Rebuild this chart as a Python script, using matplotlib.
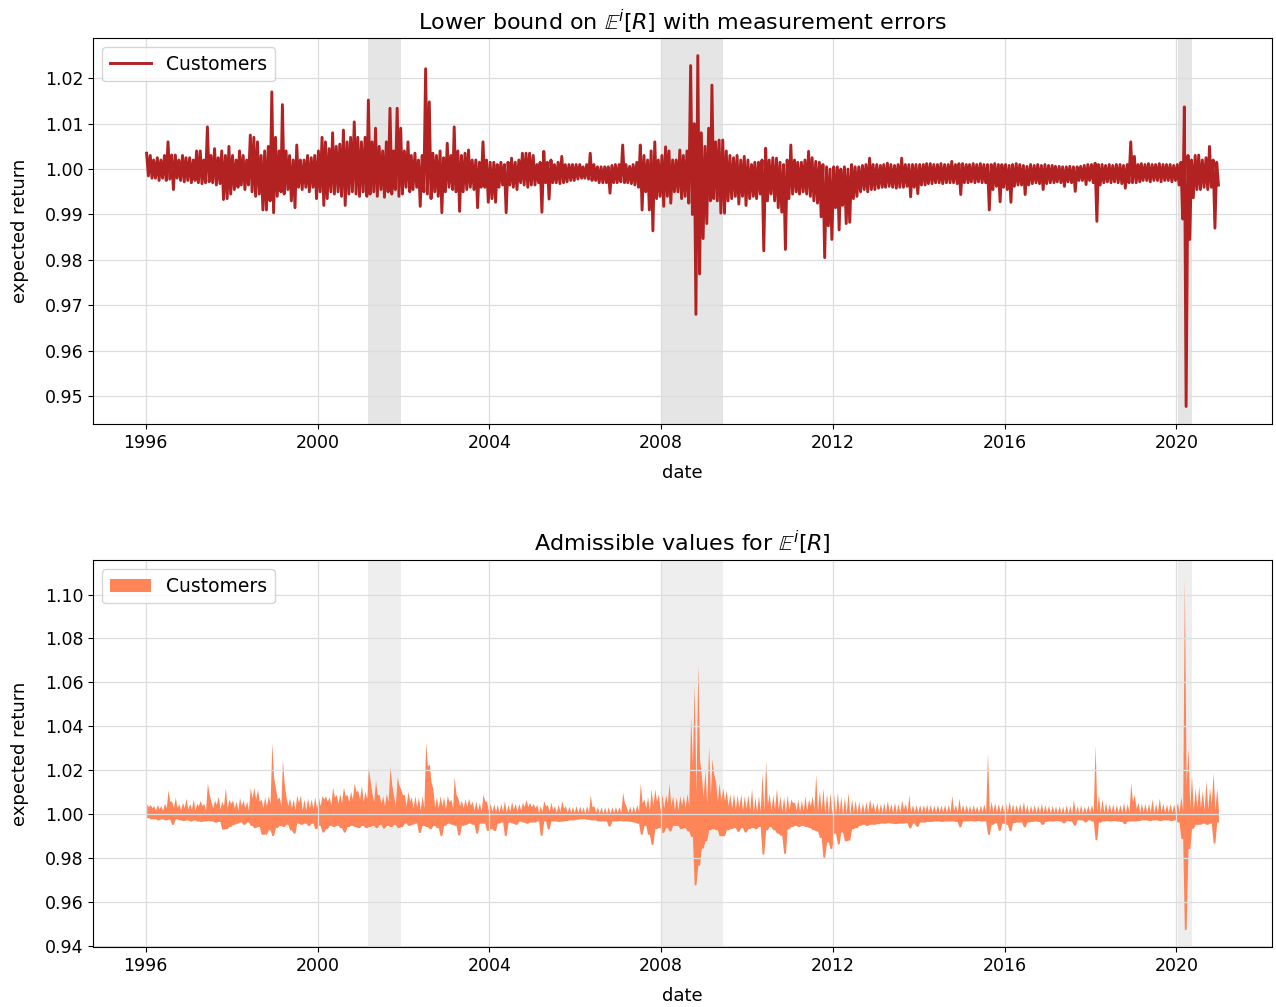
import numpy as np
import pandas as pd
import matplotlib
matplotlib.use("Agg")
import matplotlib.pyplot as plt
import matplotlib.dates as mdates

# Monthly extremes of the daily series, Jan 1996 .. Dec 2020 (one row per year)
lb_high = [
    1.0035, 1.003, 1.002, 1.0025, 1.002, 1.003, 1.006, 1.0031, 1.0031, 1.002, 1.003, 1.0025,
    1.0025, 1.002, 1.004, 1.004, 1.002, 1.0093, 1.003, 1.0045, 1.0025, 1.004, 1.003, 1.005,
    1.003, 1.002, 1.004, 1.003, 1.002, 1.0075, 1.007, 1.006, 1.003, 1.004, 1.005, 1.017,
    1.007, 1.004, 1.0142, 1.004, 1.003, 1.002, 1.0053, 1.002, 1.002, 1.003, 1.0025, 1.003,
    1.004, 1.007, 1.006, 1.0045, 1.008, 1.005, 1.0055, 1.0086, 1.006, 1.007, 1.0104, 1.007,
    1.006, 1.007, 1.0152, 1.006, 1.009, 1.005, 1.004, 1.006, 1.0134, 1.004, 1.0134, 1.009,
    1.004, 1.006, 1.003, 1.0035, 1.002, 1.003, 1.0221, 1.0148, 1.0035, 1.003, 1.004, 1.0025,
    1.0057, 1.003, 1.0093, 1.004, 1.003, 1.0035, 1.0042, 1.002, 1.002, 1.0015, 1.006, 1.002,
    1.0015, 1.0015, 1.001, 1.0015, 1.001, 1.0015, 1.0024, 1.0015, 1.002, 1.0035, 1.0035, 1.0035,
    1.003, 1.001, 1.0015, 1.0039, 1.0015, 1.002, 1.001, 1.0015, 1.0028, 1.001, 1.001, 1.001,
    1.001, 1.001, 1.0005, 1.001, 1.0035, 1.001, 1.0005, 1.0005, 1.0005, 1.0005, 1.0008, 1.001,
    1.001, 1.0053, 1.001, 1.0006, 1.001, 1.0015, 1.0053, 1.003, 1.002, 1.004, 1.006, 1.002,
    1.003, 1.0049, 1.004, 1.002, 1.002, 1.0042, 1.003, 1.004, 1.0228, 1.01, 1.025, 1.008,
    1.005, 1.009, 1.0185, 1.006, 1.0064, 1.0064, 1.004, 1.003, 1.0025, 1.003, 1.002, 1.0028,
    1.002, 1.001, 1.0015, 1.0015, 1.002, 1.0046, 1.002, 1.0025, 1.0024, 1.0015, 1.001, 1.002,
    1.0053, 1.002, 1.0015, 1.0015, 1.002, 1.0039, 1.0025, 1.0017, 1.0015, 1.001, 1.0005, 1.0,
    1.0005, 1.0005, 1.0, 1.0005, 1.0, 1.001, 1.0005, 1.0005, 1.0008, 1.001, 1.0024, 1.001,
    1.001, 1.0008, 1.001, 1.0013, 1.001, 1.0008, 1.001, 1.0024, 1.001, 1.001, 1.001, 1.001,
    1.001, 1.001, 1.0012, 1.0012, 1.001, 1.001, 1.0012, 1.001, 1.001, 1.0017, 1.001, 1.0012,
    1.0012, 1.001, 1.001, 1.0012, 1.001, 1.0012, 1.001, 1.001, 1.001, 1.0012, 1.001, 1.001,
    1.001, 1.0008, 1.001, 1.0012, 1.001, 1.0008, 1.0006, 1.001, 1.0008, 1.001, 1.0008, 1.001,
    1.0008, 1.0008, 1.0006, 1.0006, 1.0005, 1.0005, 1.0006, 1.0005, 1.0005, 1.0006, 1.0008, 1.001,
    1.001, 1.0013, 1.001, 1.001, 1.0008, 1.001, 1.0008, 1.001, 1.001, 1.0008, 1.001, 1.006,
    1.0028, 1.001, 1.0012, 1.001, 1.0012, 1.001, 1.001, 1.0012, 1.001, 1.001, 1.001, 1.0008,
    1.001, 1.0015, 1.0137, 1.003, 1.002, 1.003, 1.0031, 1.002, 1.0025, 1.005, 1.002, 1.0015,
]

lb_low = [
    0.9985, 0.998, 0.998, 0.9975, 0.998, 0.9975, 0.9978, 0.9955, 0.998, 0.9975, 0.9972, 0.9975,
    0.997, 0.9975, 0.997, 0.9968, 0.997, 0.9972, 0.997, 0.9965, 0.9968, 0.9933, 0.9935, 0.9945,
    0.9955, 0.996, 0.9965, 0.9955, 0.9965, 0.995, 0.994, 0.9945, 0.991, 0.991, 0.993, 0.9904,
    0.994, 0.995, 0.9945, 0.9955, 0.993, 0.9915, 0.996, 0.9955, 0.996, 0.995, 0.996, 0.9935,
    0.995, 0.992, 0.9935, 0.995, 0.9945, 0.995, 0.994, 0.992, 0.9945, 0.995, 0.9945, 0.994,
    0.995, 0.994, 0.9945, 0.995, 0.994, 0.9955, 0.9938, 0.995, 0.9945, 0.9955, 0.994, 0.9945,
    0.996, 0.995, 0.9955, 0.996, 0.9918, 0.995, 0.9945, 0.9935, 0.995, 0.994, 0.9904, 0.995,
    0.996, 0.9955, 0.995, 0.9907, 0.995, 0.9955, 0.996, 0.9955, 0.9915, 0.996, 0.996, 0.9927,
    0.9935, 0.9927, 0.996, 0.9965, 0.9904, 0.9965, 0.996, 0.9955, 0.997, 0.9965, 0.996, 0.9965,
    0.9965, 0.997, 0.9905, 0.997, 0.9934, 0.997, 0.997, 0.9968, 0.997, 0.9972, 0.9975, 0.9975,
    0.9978, 0.998, 0.998, 0.9978, 0.9975, 0.9975, 0.997, 0.997, 0.997, 0.9947, 0.997, 0.997,
    0.9972, 0.997, 0.997, 0.9968, 0.9965, 0.996, 0.991, 0.995, 0.991, 0.9864, 0.9935, 0.994,
    0.9918, 0.994, 0.9925, 0.995, 0.995, 0.9935, 0.994, 0.9925, 0.99, 0.968, 0.9769, 0.9847,
    0.988, 0.993, 0.9935, 0.993, 0.9903, 0.9903, 0.993, 0.9935, 0.994, 0.9923, 0.994, 0.992,
    0.9935, 0.994, 0.9935, 0.9945, 0.982, 0.993, 0.9945, 0.993, 0.9915, 0.9905, 0.9823, 0.9935,
    0.9945, 0.995, 0.9945, 0.995, 0.9945, 0.994, 0.993, 0.9925, 0.9895, 0.9805, 0.9875, 0.9845,
    0.9915, 0.9866, 0.992, 0.988, 0.9883, 0.9935, 0.994, 0.995, 0.9955, 0.995, 0.9955, 0.9955,
    0.9958, 0.996, 0.996, 0.9962, 0.996, 0.9958, 0.996, 0.996, 0.9962, 0.9939, 0.996, 0.9946,
    0.9965, 0.9965, 0.9968, 0.9968, 0.997, 0.997, 0.9968, 0.997, 0.997, 0.997, 0.9968, 0.9944,
    0.997, 0.997, 0.9972, 0.997, 0.9972, 0.997, 0.997, 0.991, 0.9955, 0.9962, 0.9928, 0.996,
    0.9955, 0.9927, 0.9962, 0.9965, 0.9965, 0.9944, 0.9965, 0.9968, 0.997, 0.9968, 0.9955, 0.9968,
    0.997, 0.997, 0.9972, 0.997, 0.9962, 0.9972, 0.997, 0.9951, 0.9975, 0.9975, 0.9966, 0.9975,
    0.997, 0.9885, 0.9965, 0.997, 0.9972, 0.997, 0.9972, 0.997, 0.9968, 0.9958, 0.997, 0.997,
    0.997, 0.9972, 0.9975, 0.9975, 0.9972, 0.9975, 0.9975, 0.9972, 0.9975, 0.9975, 0.9972, 0.9975,
    0.9965, 0.989, 0.9477, 0.9845, 0.9937, 0.9955, 0.9955, 0.996, 0.9955, 0.996, 0.987, 0.9965,
]

adm_high = [
    1.0048, 1.0045, 1.004, 1.0045, 1.004, 1.005, 1.011, 1.006, 1.0078, 1.005, 1.0055, 1.0074,
    1.005, 1.007, 1.005, 1.0063, 1.005, 1.0143, 1.006, 1.0065, 1.0083, 1.006, 1.012, 1.007,
    1.0065, 1.006, 1.0078, 1.0065, 1.006, 1.0124, 1.0124, 1.0115, 1.007, 1.008, 1.0085, 1.0327,
    1.012, 1.008, 1.025, 1.008, 1.0075, 1.007, 1.0089, 1.0089, 1.007, 1.0075, 1.007, 1.008,
    1.008, 1.0086, 1.0085, 1.008, 1.0124, 1.009, 1.0095, 1.0124, 1.009, 1.0105, 1.0143, 1.011,
    1.0131, 1.0105, 1.0214, 1.0095, 1.0154, 1.009, 1.0085, 1.0095, 1.022, 1.0085, 1.017, 1.0115,
    1.009, 1.0105, 1.0081, 1.0085, 1.008, 1.0085, 1.033, 1.023, 1.0116, 1.008, 1.0085, 1.008,
    1.0086, 1.007, 1.0173, 1.0075, 1.0065, 1.0071, 1.0074, 1.006, 1.006, 1.0055, 1.0093, 1.006,
    1.005, 1.0048, 1.0045, 1.005, 1.0063, 1.0045, 1.0059, 1.005, 1.005, 1.0055, 1.0068, 1.0055,
    1.005, 1.0045, 1.004, 1.0063, 1.0045, 1.0056, 1.004, 1.0045, 1.0063, 1.004, 1.0038, 1.0035,
    1.004, 1.0038, 1.0035, 1.004, 1.0089, 1.004, 1.0035, 1.0035, 1.0033, 1.0035, 1.0035, 1.0035,
    1.0035, 1.0101, 1.004, 1.0038, 1.004, 1.0045, 1.0143, 1.007, 1.008, 1.0116, 1.0116, 1.0093,
    1.0093, 1.009, 1.0143, 1.0085, 1.008, 1.0086, 1.0085, 1.0095, 1.045, 1.0595, 1.0686, 1.018,
    1.02, 1.031, 1.0253, 1.015, 1.0143, 1.012, 1.011, 1.0093, 1.0095, 1.009, 1.0093, 1.0085,
    1.009, 1.0119, 1.008, 1.0085, 1.019, 1.0244, 1.0095, 1.009, 1.0119, 1.0085, 1.008, 1.0089,
    1.007, 1.0056, 1.007, 1.0065, 1.0086, 1.007, 1.0085, 1.0184, 1.011, 1.012, 1.0095, 1.0101,
    1.009, 1.0101, 1.0085, 1.008, 1.0101, 1.007, 1.0065, 1.006, 1.0055, 1.006, 1.0071, 1.0055,
    1.0055, 1.005, 1.0055, 1.0063, 1.005, 1.0055, 1.005, 1.0065, 1.005, 1.0089, 1.0045, 1.0045,
    1.0045, 1.0045, 1.0048, 1.0045, 1.0042, 1.0045, 1.0042, 1.0045, 1.0045, 1.0086, 1.0045, 1.0074,
    1.0045, 1.0045, 1.0042, 1.0045, 1.004, 1.0042, 1.0048, 1.0282, 1.006, 1.0055, 1.005, 1.0048,
    1.0055, 1.0062, 1.005, 1.0045, 1.005, 1.0059, 1.0045, 1.0042, 1.0045, 1.0042, 1.005, 1.0045,
    1.0042, 1.0042, 1.004, 1.004, 1.0038, 1.0045, 1.004, 1.0068, 1.004, 1.0045, 1.0038, 1.0042,
    1.0045, 1.0315, 1.0093, 1.007, 1.0055, 1.005, 1.0048, 1.0045, 1.0045, 1.0055, 1.005, 1.0143,
    1.009, 1.0055, 1.0052, 1.005, 1.005, 1.0071, 1.005, 1.0074, 1.005, 1.0048, 1.005, 1.0048,
    1.0056, 1.008, 1.1077, 1.03, 1.0176, 1.012, 1.0131, 1.011, 1.0154, 1.012, 1.019, 1.012,
]

# recession periods shaded on both panels
recessions = [("2001-03-01", "2001-12-14"),
              ("2008-01-01", "2009-06-10"),
              ("2020-01-11", "2020-05-15")]

series_name = "Customers"

# two observations per month: the high early in the month, the low later
months = pd.date_range("1996-01-01", periods=len(lb_high), freq="MS")
dates = np.empty(2 * len(months), dtype="datetime64[ns]")
dates[0::2] = (months + pd.Timedelta(days=7)).values
dates[1::2] = (months + pd.Timedelta(days=22)).values

hi = np.array(lb_high)
lo = np.array(lb_low)
adm = np.array(adm_high)

lower_bound = np.empty(dates.size)
lower_bound[0::2] = hi
lower_bound[1::2] = lo

band_top = np.empty(dates.size)
band_top[0::2] = adm
band_top[1::2] = hi
band_bottom = np.repeat(lo, 2)

fig = plt.figure(figsize=(12.76, 10.07), dpi=100)
ax1 = fig.add_axes([0.0729, 0.5789, 0.9240, 0.3833])
ax2 = fig.add_axes([0.0729, 0.0596, 0.9240, 0.3843])

ax1.plot(dates, lower_bound, color="firebrick", lw=2.1, label=series_name)
ax2.fill_between(dates, band_bottom, band_top, color="coral", lw=0,
                 alpha=0.95, label=series_name)

for ax, shade in [(ax1, 0.2), (ax2, 0.13)]:
    for start, end in recessions:
        ax.axvspan(pd.Timestamp(start), pd.Timestamp(end), color="grey",
                   alpha=shade, lw=0, zorder=0)
    ax.grid(True, color="#dddddd", lw=0.9)
    ax.xaxis.set_major_locator(mdates.YearLocator(4))
    ax.xaxis.set_major_formatter(mdates.DateFormatter("%Y"))
    ax.yaxis.set_major_formatter(plt.FormatStrFormatter("%.2f"))
    ax.tick_params(labelsize=12.5)
    ax.set_xlabel("date", fontsize=13, labelpad=9)
    ax.set_ylabel("expected return", fontsize=13, labelpad=11)
    ax.legend(loc="upper left", fontsize=13.5, handlelength=2.2)

ax1.set_title(r"Lower bound on $\mathbb{E}^i[R]$ with measurement errors", fontsize=16)
ax2.set_title(r"Admissible values for $\mathbb{E}^i[R]$", fontsize=16)

fig.savefig("out.png", dpi=100)
